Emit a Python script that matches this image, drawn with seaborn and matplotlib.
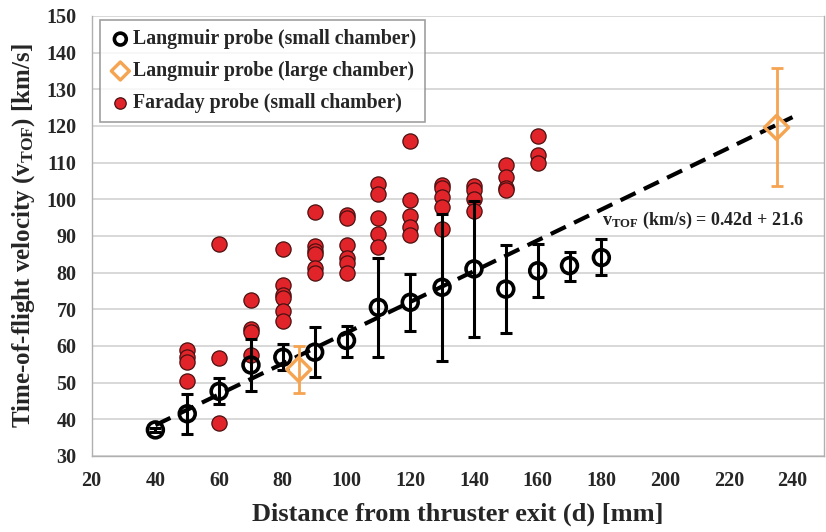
import matplotlib
matplotlib.use("Agg")
import matplotlib.pyplot as plt
import seaborn as sns
import numpy as np
import pandas as pd

# ---- data ----
lp_small_d = [40, 50, 60, 70, 80, 90, 100, 110, 120, 130, 140, 150, 160, 170, 180]
lp_small_v = [37.1, 41.5, 47.6, 54.8, 56.9, 58.3, 61.5, 70.5, 71.9, 76.0, 81.0, 75.5, 80.5, 81.9, 84.1]
lp_small_hi = [37.6, 46.9, 51.3, 62.0, 60.6, 65.3, 65.5, 83.9, 79.6, 96.0, 99.6, 87.5, 87.8, 85.7, 89.1]
lp_small_lo = [36.6, 36.0, 44.2, 47.6, 53.5, 51.5, 57.1, 57.1, 64.2, 56.0, 62.4, 63.5, 73.3, 77.7, 79.3]

lp_large_d = [85, 235]
lp_large_v = [53.6, 119.6]
lp_large_hi = [60.1, 135.9]
lp_large_lo = [47.1, 103.6]

fp_d = [50, 50, 50, 50,
        60, 60, 60,
        70, 70, 70, 70,
        80, 80, 80, 80, 80, 80,
        90, 90, 90, 90, 90, 90,
        100, 100, 100, 100, 100, 100,
        110, 110, 110, 110, 110,
        120, 120, 120, 120, 120,
        130, 130, 130, 130, 130,
        140, 140, 140, 140,
        150, 150, 150, 150,
        160, 160, 160]
fp_v = [59.0, 57.0, 55.5, 50.5,
        87.8, 56.6, 39.1,
        72.4, 64.6, 63.9, 57.6,
        86.5, 76.6, 73.9, 73.0, 69.6, 66.9,
        96.6, 87.3, 86.0, 85.1, 81.2, 80.0,
        95.7, 94.8, 87.5, 84.1, 82.7, 80.0,
        104.1, 101.4, 95.0, 90.6, 87.1,
        116.0, 99.8, 95.5, 92.5, 90.2,
        103.9, 103.2, 100.5, 97.8, 91.8,
        103.7, 102.4, 100.1, 96.9,
        109.4, 106.0, 103.0, 102.4,
        117.2, 112.1, 109.8]

fit_slope = 0.42
fit_intercept = 21.6
fit_range = [40, 240]

legend_labels = ["Langmuir probe (small chamber)",
                 "Langmuir probe (large chamber)",
                 "Faraday probe (small chamber)"]
xticks = list(range(20, 241, 20))
yticks = list(range(30, 151, 10))

# ---- style ----
sns.set_theme(style="white")
plt.rcParams["font.family"] = ["Liberation Serif", "DejaVu Serif"]
plt.rcParams["font.weight"] = "bold"
plt.rcParams["mathtext.fontset"] = "custom"
plt.rcParams["mathtext.rm"] = "Liberation Serif:bold"
plt.rcParams["mathtext.it"] = "Liberation Serif:bold"
plt.rcParams["mathtext.bf"] = "Liberation Serif:bold"

fig = plt.figure(figsize=(8.26, 5.32), dpi=100)
ax = fig.add_axes([0.111, 0.143, 0.887, 0.827])

red_face = "#E1242A"
red_edge = "#4a1010"
orange = "#F5A451"

# grid
ax.set_axisbelow(True)
ax.yaxis.grid(True, color="#d6d6d6", linewidth=1.3)
ax.xaxis.grid(False)

# fit line
fx = np.array(fit_range, dtype=float)
sns.lineplot(x=fx, y=fit_slope * fx + fit_intercept, ax=ax, color="black",
             linewidth=3, dashes=False, zorder=2)
ax.lines[-1].set_dashes([4, 2.2])

# Faraday probe points
df_fp = pd.DataFrame({"d": fp_d, "v": fp_v})
sns.scatterplot(data=df_fp, x="d", y="v", ax=ax, s=120, color=red_face,
                edgecolor=red_edge, linewidth=0.9, zorder=3, label=legend_labels[2])

# Langmuir small
v = np.array(lp_small_v)
yerr = [v - np.array(lp_small_lo), np.array(lp_small_hi) - v]
ax.errorbar(lp_small_d, lp_small_v, yerr=yerr, fmt="none", ecolor="black",
            elinewidth=2.2, capsize=4, capthick=2.2, zorder=4)
df_ls = pd.DataFrame({"d": lp_small_d, "v": lp_small_v})
sns.scatterplot(data=df_ls, x="d", y="v", ax=ax, s=130, marker="o",
                facecolor="none", edgecolor="black", linewidth=2.6, zorder=5,
                label=legend_labels[0])

# Langmuir large
v2 = np.array(lp_large_v)
yerr2 = [v2 - np.array(lp_large_lo), np.array(lp_large_hi) - v2]
ax.errorbar(lp_large_d, lp_large_v, yerr=yerr2, fmt="none", ecolor=orange,
            elinewidth=2.0, capsize=4, capthick=2.0, zorder=4)
df_ll = pd.DataFrame({"d": lp_large_d, "v": lp_large_v})
sns.scatterplot(data=df_ll, x="d", y="v", ax=ax, s=150, marker="D",
                facecolor="none", edgecolor=orange, linewidth=2.4, zorder=5,
                label=legend_labels[1])

# axes
ax.set_xlim(20, 250)
ax.set_ylim(30, 150)
ax.set_xticks(xticks)
ax.set_yticks(yticks)
ax.tick_params(axis="both", labelsize=14.5, length=5, width=1, color="#a0a0a0",
               direction="out", pad=6)
for lab in ax.get_xticklabels() + ax.get_yticklabels():
    lab.set_fontweight("bold")
for side in ["left", "bottom", "top", "right"]:
    ax.spines[side].set_color("#b0b0b0")
    ax.spines[side].set_linewidth(1)
ax.spines["top"].set_visible(False)

ax.set_xlabel("Distance from thruster exit (d) [mm]", fontsize=19,
              fontweight="bold", labelpad=8)
ax.set_ylabel(r"Time-of-flight velocity (v$_{\mathrm{TOF}}$) [km/s]", fontsize=18,
              fontweight="bold", labelpad=7)

ax.text(180.3, 94.2, r"v$_{\mathrm{TOF}}$ (km/s) = 0.42d + 21.6", fontsize=13,
        fontweight="bold", ha="left", va="center", color="#222222")

# legend
handles, labels = ax.get_legend_handles_labels()
order = [labels.index(l) for l in legend_labels]
leg = ax.legend([handles[i] for i in order], [labels[i] for i in order],
                loc="upper left", bbox_to_anchor=(0.012, 0.99), frameon=True,
                borderaxespad=0.0,
                fancybox=False, edgecolor="#888888", fontsize=14.3,
                handletextpad=0.1, borderpad=0.45, labelspacing=0.6,
                handlelength=1.1, markerscale=0.75)
leg.get_frame().set_linewidth(1.2)
for t in leg.get_texts():
    t.set_fontweight("bold")

fig.savefig("out.png", dpi=100)
